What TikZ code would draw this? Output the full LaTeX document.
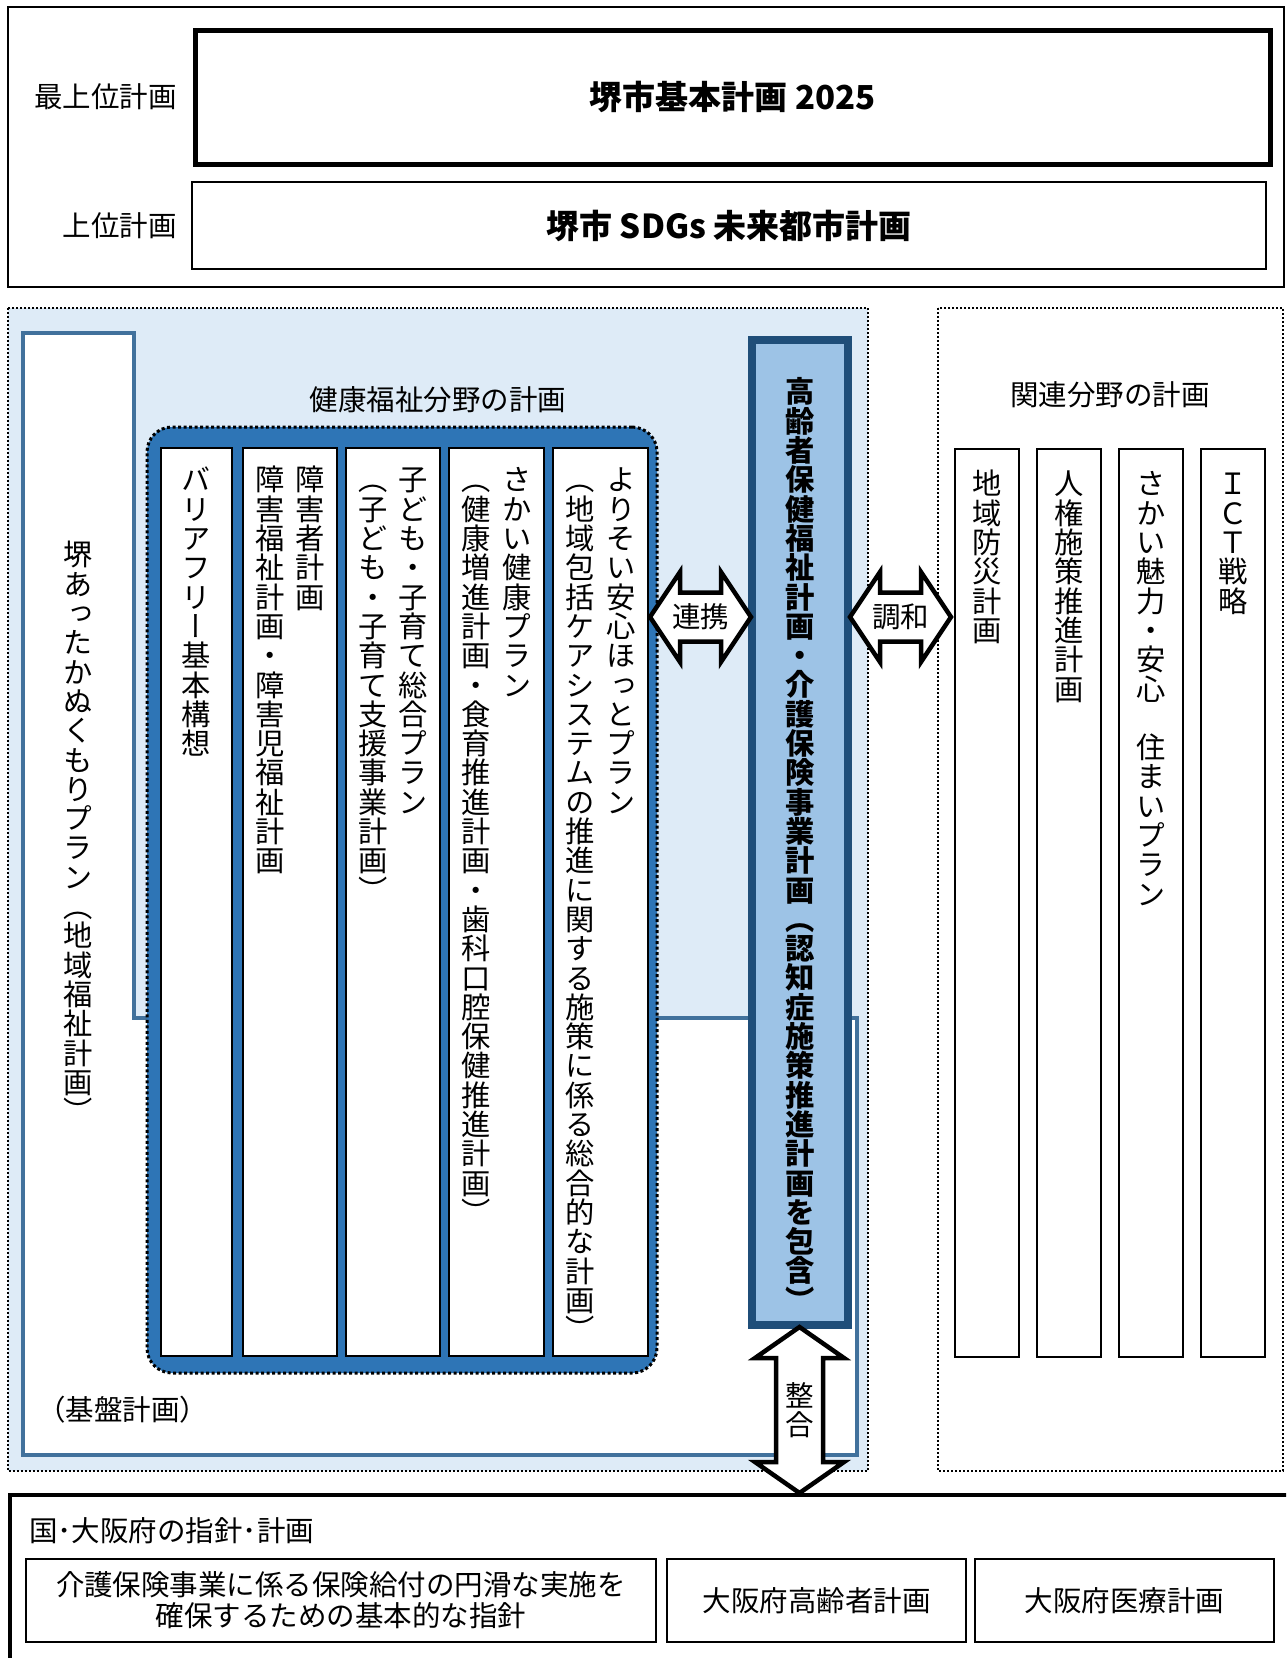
\documentclass[tikz,border=0pt]{standalone}
\usepackage{fontspec}
\setmainfont{Noto Sans CJK JP}
\newfontfamily\tatefont[RawFeature=+vert]{Noto Sans CJK JP}
\usetikzlibrary{positioning,calc}

\definecolor{bgblue}{RGB}{222,235,247}
\definecolor{lineblue}{RGB}{65,113,156}
\definecolor{groupblue}{RGB}{46,117,182}
\definecolor{koureiblue}{RGB}{157,195,230}
\definecolor{koureiedge}{RGB}{31,78,121}

% one character per line, for vertical text
\ExplSyntaxOn
\NewDocumentCommand \tate { m }
	{
		\vtop
			{
				\offinterlineskip
				\tl_map_inline:nn {#1}
					{ \hbox_to_wd:nn { 1em } { \hss \rule[-.12em]{0pt}{1em} ##1 \hss } }
			}
	}
\ExplSyntaxOff
% two vertical lines, the first one on the right
\newcommand\tatepair[2]{\tate{#2}\hspace{11pt}\tate{#1}}

\tikzset{
	plan/.style={draw, fill=white, line width=2pt, inner sep=0pt, outer sep=0pt, font=\fontsize{28.5}{31}\selectfont},
	col/.style={plan, minimum height=908pt},
	rcol/.style={plan, minimum width=64pt, minimum height=908pt},
	txt/.style={inner sep=0pt, font=\fontsize{28.5}{31}\selectfont},
	vtxt/.style={inner sep=0pt, anchor=north, font=\fontsize{29.3}{29.3}\selectfont\tatefont},
	dotframe/.style={line width=2pt, dash pattern=on 2pt off 2pt},
	blockarrow/.style={draw, fill=white, line width=4.5pt, line join=miter},
}

\begin{document}
\begin{tikzpicture}[x=1pt, y=-1pt]
	\useasboundingbox (0,0) rectangle (1286,1658);
	\clip (0,0) rectangle (1286,1658);

	% top
	\draw[line width=1.5pt] (8,7) rectangle (1284,287);
	\node[plan, line width=5pt, minimum width=1075pt, minimum height=134pt, font=\fontsize{33}{36}\selectfont\bfseries] (kihon) at (732.5,97) {堺市基本計画 2025};
	\node[plan, line width=2.5pt, minimum width=1074pt, minimum height=87pt, font=\fontsize{33}{36}\selectfont\bfseries] (sdgs) at (729,225.5) {堺市 SDGs 未来都市計画};
	\node[txt, left=18pt of kihon] (saijoui) {最上位計画};
	\node[txt, left=15pt of sdgs] (joui) {上位計画};

	% health and welfare
	\draw[dotframe, fill=bgblue] (8,308) rectangle (868,1471);
	\draw[line width=4pt, draw=lineblue, fill=white] (23,333) -- (134,333) -- (134,1018) -- (857,1018) -- (857,1455) -- (23,1455) -- cycle;
	\node[vtxt] (nukumori) at (78.5,540) {\tate{堺あったかぬくもりプラン（地域福祉計画）}};
	\node[txt] (kiban) at (123,1410) {（基盤計画）};
	\node[txt] (kenkoutitle) at (438,400) {健康福祉分野の計画};
	\node[draw, fill=groupblue, line width=3pt, dash pattern=on 3pt off 2.5pt, rounded corners=25pt, minimum width=510pt, minimum height=946pt] (kenkou) at (402,900) {};

	\node[col, minimum width=71pt] (barrier) at (196.5,902) {};
	\node[col, minimum width=94pt] (shougai) at (290,902) {};
	\node[col, minimum width=94pt] (kodomo) at (393,902) {};
	\node[col, minimum width=95pt] (kenkouplan) at (496.5,902) {};
	\node[col, minimum width=95pt] (yorisoi) at (600.5,902) {};
	\node[vtxt, below=17pt of barrier.north] (barriertxt) {\tate{バリアフリー基本構想}};
	\node[vtxt, below=17pt of shougai.north] (shougaitxt) {\tatepair{障害者計画}{障害福祉計画・障害児福祉計画}};
	\node[vtxt, below=17pt of kodomo.north] (kodomotxt) {\tatepair{子ども・子育て総合プラン}{（子ども・子育て支援事業計画）}};
	\node[vtxt, below=17pt of kenkouplan.north] (kenkoutxt) {\tatepair{さかい健康プラン}{（健康増進計画・食育推進計画・歯科口腔保健推進計画）}};
	\node[vtxt, below=17pt of yorisoi.north] (yorisoitxt) {\tatepair{よりそい安心ほっとプラン}{（地域包括ケアシステムの推進に関する施策に係る総合的な計画）}};

	\node[draw=koureiedge, fill=koureiblue, line width=8pt, outer sep=0pt, minimum width=96pt, minimum height=985pt] (kourei) at (800,832.5) {};
	\node[vtxt, below=37pt of kourei.north] (koureitxt) {\bfseries\tate{高齢者保健福祉計画・介護保険事業計画（認知症施策推進計画を包含）}};

	% related fields
	\draw[dotframe] (938,308) rectangle (1283,1471);
	\node[txt] (kanrentitle) at (1110,395) {関連分野の計画};
	\node[rcol] (bousai) at (987,903) {};
	\node[rcol] (jinken) at (1069,903) {};
	\node[rcol] (miryoku) at (1151,903) {};
	\node[rcol] (ict) at (1233,903) {};
	\node[vtxt, below=20pt of bousai.north] (bousaitxt) {\tate{地域防災計画}};
	\node[vtxt, below=20pt of jinken.north] (jinkentxt) {\tate{人権施策推進計画}};
	\node[vtxt, below=20pt of miryoku.north] (miryokutxt) {\tate{さかい魅力・安心　住まいプラン}};
	\node[vtxt, below=20pt of ict.north] (icttxt) {\tate{ＩＣＴ戦略}};

	% arrows
	\coordinate (renkei) at (700.5,617);
	\draw[blockarrow] ($(renkei)+(-50.5,0)$) -- ++(30,-45) -- ++(0,20.5) -- ++(41,0) -- ++(0,-20.5) -- ++(30,45) -- ++(-30,45) -- ++(0,-20.5) -- ++(-41,0) -- ++(0,20.5) -- cycle;
	\node[txt] (renkeitxt) at (renkei) {連携};
	\coordinate (chouwa) at (900.5,617);
	\draw[blockarrow] ($(chouwa)+(-50.5,0)$) -- ++(30,-45) -- ++(0,20.5) -- ++(41,0) -- ++(0,-20.5) -- ++(30,45) -- ++(-30,45) -- ++(0,-20.5) -- ++(-41,0) -- ++(0,20.5) -- cycle;
	\node[txt] (chouwatxt) at (chouwa) {調和};
	\coordinate (seigou) at (799.5,1410);
	\draw[blockarrow] ($(seigou)+(0,-83)$) -- ++(44.5,31) -- ++(-21,0) -- ++(0,104) -- ++(21,0) -- ++(-44.5,31) -- ++(-44.5,-31) -- ++(21,0) -- ++(0,-104) -- ++(-21,0) -- cycle;
	\node[vtxt, anchor=center, font=\fontsize{28.5}{28.5}\selectfont\tatefont] (seigoutxt) at (seigou) {\tate{整合}};

	% national and prefecture
	\draw[line width=4pt] (10,1495) rectangle (1300,1680);
	\node[txt, anchor=west] (kuni) at (29,1531) {国･大阪府の指針･計画};
	\node[plan, minimum width=630pt, minimum height=83pt, align=center] (shishin) at (341,1600.5) {介護保険事業に係る保険給付の円滑な実施を\\確保するための基本的な指針};
	\node[plan, minimum width=299pt, minimum height=83pt] (fukoureisha) at (816.5,1600.5) {大阪府高齢者計画};
	\node[plan, minimum width=299pt, minimum height=83pt] (fuiryou) at (1124.5,1600.5) {大阪府医療計画};
\end{tikzpicture}
\end{document}
